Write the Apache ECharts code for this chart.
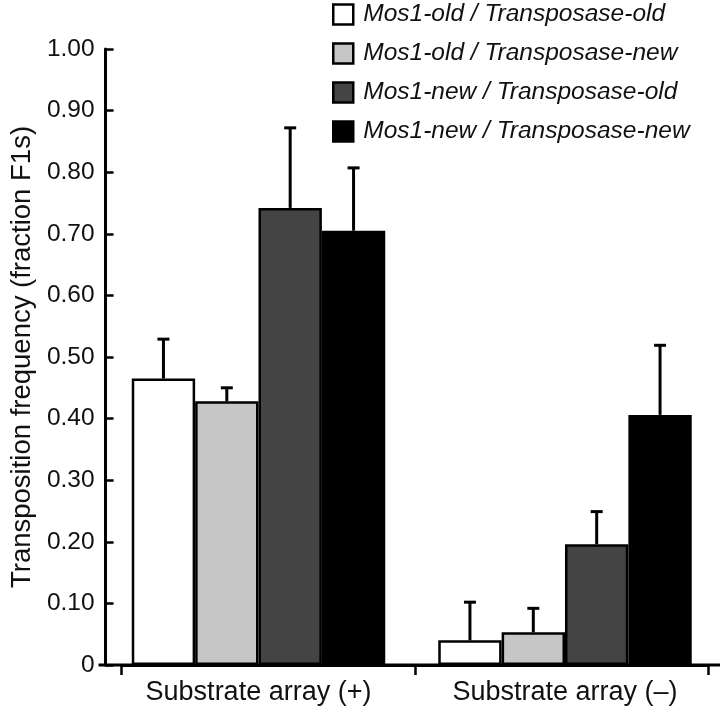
<!DOCTYPE html>
<html>
<head>
<meta charset="utf-8">
<script src="https://cdn.jsdelivr.net/npm/echarts@6/dist/echarts.min.js"></script>
<style>html,body{margin:0;padding:0;background:#fff;}#c{width:720px;height:711px;}</style>
</head>
<body>
<div id="c"></div>
<script>
// ---- data ----
const categories = ['Substrate array (+)', 'Substrate array (\u2013)'];
const seriesNames = ['Mos1-old / Transposase-old', 'Mos1-old / Transposase-new', 'Mos1-new / Transposase-old', 'Mos1-new / Transposase-new'];
const oldOld = [0.465, 0.040];
const oldNew = [0.428, 0.053];
const newOld = [0.742, 0.196];
const newNew = [0.705, 0.406];
const oldOldUpper = [0.529, 0.102];
const oldNewUpper = [0.450, 0.092];
const newOldUpper = [0.872, 0.249];
const newNewUpper = [0.807, 0.519];
const yTicks = [0, 0.1, 0.2, 0.3, 0.4, 0.5, 0.6, 0.7, 0.8, 0.9, 1.0];

const values = [oldOld, oldNew, newOld, newNew];
const uppers = [oldOldUpper, oldNewUpper, newOldUpper, newNewUpper];
const colors = ['#ffffff', '#c6c6c6', '#444444', '#000000'];

const FONT = 'Liberation Sans, Arial, Helvetica, sans-serif';
const TOP = 49, BOTTOM = 46;
const barGrid = {left: 105.25, right: 1.75, top: TOP, bottom: BOTTOM};
const axisGrid = {left: 116, right: 12, top: TOP, bottom: BOTTOM};
const catGap = 0.173;
const nSeries = 4;

const chart = echarts.init(document.getElementById('c'), null, {renderer: 'canvas'});

const series = [];
values.forEach((vals, i) => {
  series.push({
    name: seriesNames[i],
    type: 'bar',
    xAxisIndex: 0, yAxisIndex: 0,
    data: vals,
    barGap: '0%',
    barCategoryGap: (catGap * 100) + '%',
    itemStyle: {color: colors[i], borderColor: '#000', borderWidth: 2.5},
    z: 2
  });
});
values.forEach((vals, i) => {
  series.push({
    type: 'custom',
    name: seriesNames[i] + ' err',
    xAxisIndex: 0, yAxisIndex: 0,
    data: vals.map((v, k) => [k, v, uppers[i][k]]),
    encode: {x: 0, y: [1, 2]},
    z: 3,
    silent: true,
    renderItem: function (params, api) {
      const band = api.size([1, 0])[0];
      const usable = band * (1 - catGap);
      const w = usable / nSeries;
      const off = -usable / 2 + (i + 0.5) * w;
      const p0 = api.coord([api.value(0), api.value(1)]);
      const p1 = api.coord([api.value(0), api.value(2)]);
      const x = p0[0] + off;
      const capHalf = 6;
      const st = {stroke: '#000', lineWidth: 3};
      return {
        type: 'group',
        children: [
          {type: 'line', shape: {x1: x, y1: p0[1], x2: x, y2: p1[1]}, style: st},
          {type: 'line', shape: {x1: x - capHalf, y1: p1[1], x2: x + capHalf, y2: p1[1]}, style: st}
        ]
      };
    }
  });
});

const option = {
  backgroundColor: '#fff',
  animation: false,
  textStyle: {fontFamily: FONT},
  grid: [barGrid, axisGrid],
  legend: {
    data: seriesNames,
    orient: 'vertical',
    left: 327,
    top: -3,
    itemWidth: 20,
    itemHeight: 20,
    itemGap: 14,
    icon: 'rect',
    selectedMode: false,
    itemStyle: {borderColor: '#000', borderWidth: 2.5},
    textStyle: {fontFamily: FONT, fontSize: 24.5, fontStyle: 'italic', color: '#111', padding: [0, 0, 0, 5]}
  },
  xAxis: [{
    type: 'category',
    gridIndex: 0,
    data: categories,
    axisLine: {show: false},
    axisTick: {show: false},
    axisLabel: {fontFamily: FONT, fontSize: 27, color: '#111', margin: 14}
  }, {
    type: 'category',
    gridIndex: 1,
    data: categories,
    axisLine: {lineStyle: {color: '#000', width: 3}},
    axisTick: {show: true, length: 10, lineStyle: {color: '#000', width: 2.5}},
    axisLabel: {show: false}
  }],
  yAxis: [{
    type: 'value',
    gridIndex: 0,
    min: 0, max: 1, interval: 0.1,
    show: false
  }, {
    type: 'value',
    gridIndex: 1,
    min: 0, max: 1, interval: 0.1,
    offset: 16,
    name: 'Transposition frequency (fraction F1s)',
    nameLocation: 'middle',
    nameGap: 68,
    nameTextStyle: {fontFamily: FONT, fontSize: 27.5, color: '#111'},
    splitLine: {show: false},
    axisLine: {show: true, lineStyle: {color: '#000', width: 3}},
    axisTick: {show: true, inside: true, length: 8, lineStyle: {color: '#000', width: 2.5}},
    axisLabel: {
      fontFamily: FONT, fontSize: 24.5, color: '#111', margin: 11,
      formatter: function (v) {
        const t = yTicks.find(y => Math.abs(y - v) < 1e-9);
        if (t === undefined) return '';
        return t === 0 ? '0' : t.toFixed(2);
      }
    }
  }],
  series: series
};
chart.setOption(option);

// extend the x axis line to meet the offset y axis and to the right edge
const y0 = chart.convertToPixel({yAxisIndex: 1}, 0);
chart.setOption({
  graphic: [{
    type: 'line', silent: true, z: 10,
    shape: {x1: axisGrid.left - 16 - 1.5, y1: y0, x2: 720, y2: y0},
    style: {stroke: '#000', lineWidth: 3}
  }]
});
</script>
</body>
</html>
